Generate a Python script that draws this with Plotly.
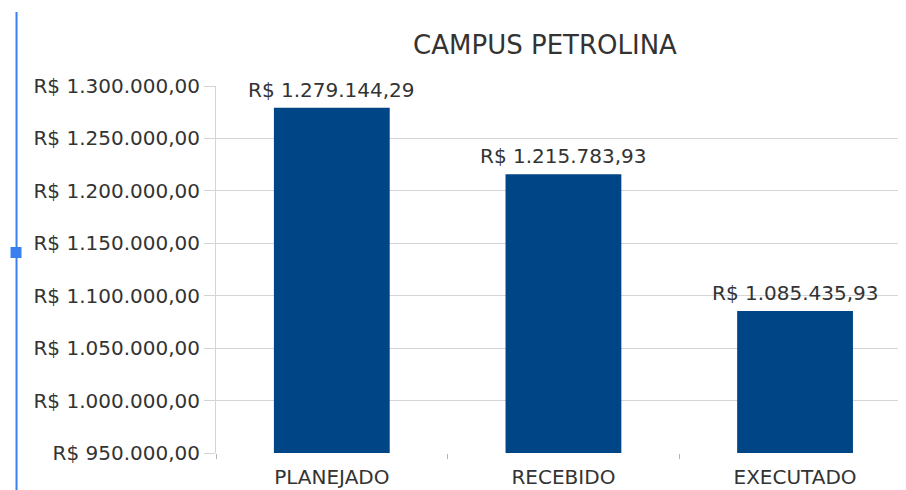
import plotly.graph_objects as go

categories = ["PLANEJADO", "RECEBIDO", "EXECUTADO"]
values = [1279144.29, 1215783.93, 1085435.93]
value_labels = ["R$ 1.279.144,29", "R$ 1.215.783,93", "R$ 1.085.435,93"]
tick_vals = [950000, 1000000, 1050000, 1100000, 1150000, 1200000, 1250000, 1300000]
tick_text = ["R$ 950.000,00", "R$ 1.000.000,00", "R$ 1.050.000,00", "R$ 1.100.000,00",
             "R$ 1.150.000,00", "R$ 1.200.000,00", "R$ 1.250.000,00", "R$ 1.300.000,00"]

font = "DejaVu Sans, Liberation Sans, sans-serif"
text_color = "#333333"

fig = go.Figure()

fig.add_trace(go.Bar(x=categories,
                     y=values,
                     marker=dict(color="#004586", line=dict(width=0)),
                     hoverinfo="none"
                     ))

# value labels above the bars
for i in range(len(categories)):
    fig.add_annotation(x=categories[i], y=values[i], text=value_labels[i],
                       showarrow=False, yanchor="bottom", yshift=4,
                       font=dict(family=font, size=20, color=text_color))

# selection marker on the left edge (screenshot artifact)
fig.add_shape(type="line", xref="paper", yref="paper",
              x0=-0.2891, x1=-0.2891, y0=1.2016, y1=-0.15,
              line=dict(color="#3a7ff0", width=2))
fig.add_shape(type="rect", xref="paper", yref="paper",
              x0=-0.2978, x1=-0.2819, y0=0.5313, y1=0.5613,
              fillcolor="#3a7ff0", line=dict(width=0))

fig.update_layout(width=898,
                  height=482,
                  margin=dict(l=208, r=0, t=78, b=37),
                  paper_bgcolor="white",
                  plot_bgcolor="white",
                  showlegend=False,
                  bargap=0.5,
                  font=dict(family=font, size=20, color=text_color),
                  title=dict(text="CAMPUS PETROLINA", x=0.598, xanchor="center",
                             y=0.9232, yanchor="middle",
                             font=dict(family=font, size=26, color=text_color)),
                  xaxis=dict(range=[-0.5, 2.479],
                             showgrid=False,
                             zeroline=False,
                             showline=False,
                             ticks="outside",
                             tickson="boundaries",
                             ticklen=5,
                             tickcolor="#b3b3b3",
                             ticklabelstandoff=10,
                             tickfont=dict(family=font, size=20, color=text_color)),
                  yaxis=dict(range=[950000, 1300000],
                             tickvals=tick_vals,
                             ticktext=tick_text,
                             showgrid=True,
                             gridcolor="#d4d4d4",
                             gridwidth=1,
                             zeroline=False,
                             showline=True,
                             linecolor="#d4d4d4",
                             ticks="outside",
                             ticklen=11,
                             tickcolor="#d4d4d4",
                             tickfont=dict(family=font, size=20, color=text_color))
                  )

fig.write_html("out.html")
